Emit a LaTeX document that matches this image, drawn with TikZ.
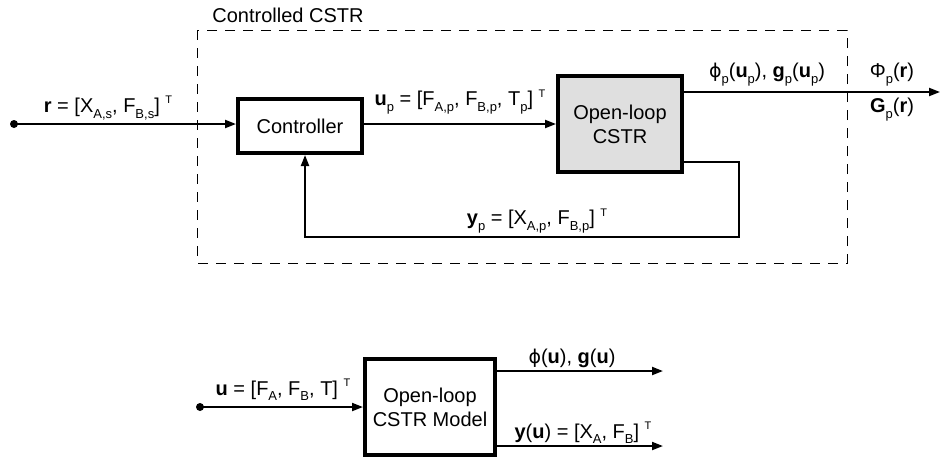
\documentclass[tikz,border=0pt]{standalone}
\usepackage{fontspec}
\setmainfont{Liberation Sans}
\newfontfamily\greekfont{DejaVu Sans}
\usetikzlibrary{arrows.meta}

\tikzset{
  block/.style={draw, line width=2pt, minimum width=62pt, minimum height=27pt, inner sep=0pt, align=center},
  signal/.style={line width=1pt, -{Triangle[length=5.5pt,width=4pt]}},
  lbl/.style={inner sep=1pt},
}
\newcommand{\lsub}[1]{\raisebox{-0.55ex}{\fontsize{6.5}{7}\selectfont #1}}
\newcommand{\trp}{\;\raisebox{0.8ex}{\fontsize{5.5}{6}\selectfont T}}
\newcommand{\vphi}{{\greekfont\fontsize{9.5}{11}\selectfont ϕ}}

\begin{document}
\begin{tikzpicture}[x=0.5pt,y=-0.5pt]
	\useasboundingbox (0,0) rectangle (942,462);

	% controlled loop
	\draw [dash pattern=on 5pt off 4pt, line width=0.5pt] (197,30) rectangle (847,263);
	\node [lbl, anchor=west] (title) at (210,15) {Controlled CSTR};

	\node [block] (ctrl) at (300,126) {Controller};
	\node [block, fill=gray!25, minimum height=48pt] (plant) at (620,124) {Open-loop\\CSTR};

	\coordinate (in) at (14,124);
	\coordinate (out) at (940,92);
	\coordinate (fbr) at (739,162);
	\coordinate (fbb) at (305,237);

	\fill (in) circle (2pt);
	\draw [signal] (in) -- (in -| ctrl.west);
	\draw [signal] (ctrl.east |- in) -- (in -| plant.west);
	\draw [signal] (plant.east |- out) -- (out);
	\draw [signal] (plant.east |- fbr) -- (fbr) |- (fbb) -- (fbb |- ctrl.south);

	\node [lbl] (rlab) at (108,108) {\textbf{r} = [X\lsub{A,s}, F\lsub{B,s}]\trp};
	\node [lbl] (uplab) at (460,102) {\textbf{u}\lsub{p} = [F\lsub{A,p}, F\lsub{B,p}, T\lsub{p}]\trp};
	\node [lbl] (philab) at (767,75) {\vphi\lsub{p}(\textbf{u}\lsub{p}), \textbf{g}\lsub{p}(\textbf{u}\lsub{p})};
	\node [lbl] (Philab) at (892,75) {Φ\lsub{p}(\textbf{r})};
	\node [lbl] (Glab) at (892,110) {\textbf{G}\lsub{p}(\textbf{r})};
	\node [lbl] (yplab) at (537,221) {\textbf{y}\lsub{p} = [X\lsub{A,p}, F\lsub{B,p}]\trp};

	% open-loop model
	\node [block, minimum width=65pt, minimum height=48pt] (model) at (430,407) {Open-loop\\CSTR Model};

	\coordinate (min) at (200,407);
	\coordinate (mo1) at (663,371);
	\coordinate (mo2) at (663,446);

	\fill (min) circle (2pt);
	\draw [signal] (min) -- (model.west);
	\draw [signal] (model.east |- mo1) -- (mo1);
	\draw [signal] (model.east |- mo2) -- (mo2);

	\node [lbl] (ulab) at (283,390) {\textbf{u} = [F\lsub{A}, F\lsub{B}, T]\trp};
	\node [lbl] (phiulab) at (572,358) {\vphi(\textbf{u}), \textbf{g}(\textbf{u})};
	\node [lbl] (yulab) at (583,433) {\textbf{y}(\textbf{u}) = [X\lsub{A}, F\lsub{B}]\trp};
\end{tikzpicture}
\end{document}
